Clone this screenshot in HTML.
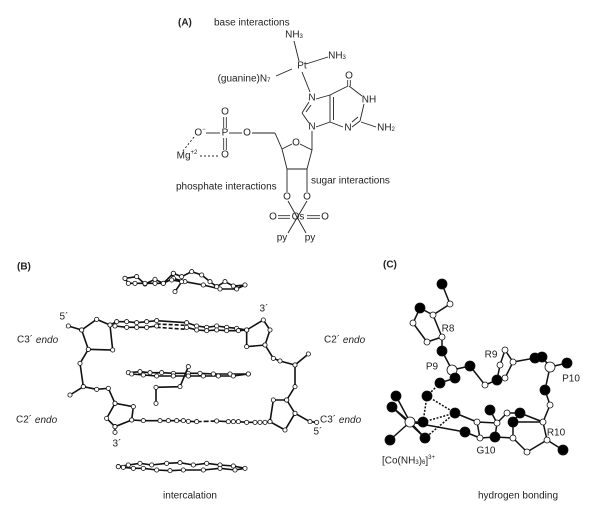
<!DOCTYPE html>
<html><head><meta charset="utf-8"><style>
html,body{margin:0;padding:0;background:#fff;}
svg{display:block;font-family:"Liberation Sans",sans-serif;}
text{font-size:10px;fill:#222;}
</style></head><body>
<svg id="s" width="601" height="513" viewBox="0 0 601 513" xmlns="http://www.w3.org/2000/svg">
<g stroke="#222" stroke-width="0.9" fill="none">
<line x1="294" y1="41" x2="299" y2="61"/>
<line x1="306" y1="64" x2="328" y2="57"/>
<line x1="276" y1="76" x2="292" y2="69"/>
<line x1="302" y1="72" x2="310" y2="92"/>
<line x1="316" y1="99" x2="330" y2="95"/>
<line x1="309" y1="102" x2="302" y2="113"/>
<line x1="311" y1="105" x2="306" y2="112"/>
<line x1="302" y1="113" x2="309" y2="123"/>
<line x1="316" y1="127" x2="330" y2="122"/>
<line x1="330" y1="95" x2="330" y2="122"/>
<line x1="333.5" y1="97" x2="333.5" y2="120"/>
<line x1="330" y1="95" x2="348" y2="86"/>
<line x1="347.7" y1="86" x2="347.7" y2="80" stroke-width="0.8"/><line x1="350.3" y1="86" x2="350.3" y2="80" stroke-width="0.8"/>
<line x1="349" y1="86" x2="362" y2="96"/>
<line x1="364" y1="104" x2="360" y2="121"/>
<line x1="360" y1="121" x2="352" y2="127"/>
<line x1="358" y1="117" x2="352" y2="122"/>
<line x1="343" y1="127" x2="330" y2="122"/>
<line x1="361" y1="122" x2="376" y2="127"/>
<line x1="312" y1="131" x2="312" y2="150"/>
<line x1="312" y1="150" x2="300" y2="144"/>
<line x1="292" y1="144" x2="282" y2="149"/>
<line x1="312" y1="150" x2="307" y2="169"/>
<line x1="307" y1="169" x2="287" y2="169"/>
<line x1="287" y1="169" x2="282" y2="149"/>
<line x1="282" y1="149" x2="275" y2="133"/>
<line x1="275" y1="133" x2="252" y2="133"/>
<line x1="287" y1="169" x2="287" y2="192"/>
<line x1="307" y1="169" x2="307" y2="192"/>
<line x1="229" y1="133" x2="242" y2="133"/>
<line x1="206" y1="133" x2="220" y2="133"/>
<line x1="223.7" y1="117" x2="223.7" y2="128" stroke-width="0.8"/><line x1="226.3" y1="117" x2="226.3" y2="128" stroke-width="0.8"/>
<line x1="223.7" y1="138" x2="223.7" y2="150" stroke-width="0.8"/><line x1="226.3" y1="138" x2="226.3" y2="150" stroke-width="0.8"/>
<line x1="194" y1="137" x2="183" y2="151" stroke-dasharray="2,2"/>
<line x1="200" y1="156" x2="220" y2="156" stroke-dasharray="2,2"/>
<line x1="288" y1="201" x2="306" y2="233"/>
<line x1="307" y1="201" x2="288" y2="233"/>
<line x1="278" y1="215.7" x2="290" y2="215.7" stroke-width="0.8"/><line x1="278" y1="218.3" x2="290" y2="218.3" stroke-width="0.8"/>
<line x1="307" y1="215.7" x2="320" y2="215.7" stroke-width="0.8"/><line x1="307" y1="218.3" x2="320" y2="218.3" stroke-width="0.8"/>
</g>
<g text-anchor="middle" dominant-baseline="central">
<text x="178" y="23" text-anchor="start" font-weight="bold">(A)</text>
<text x="214" y="23" text-anchor="start">base interactions</text>
<text x="294" y="35">NH<tspan font-size="6" dy="2">3</tspan></text>
<text x="337" y="56">NH<tspan font-size="6" dy="2">3</tspan></text>
<text x="302" y="66">Pt</text>
<text x="244" y="79">(guanine)N<tspan font-size="6" dy="2">7</tspan></text>
<text x="312" y="98">N</text>
<text x="312" y="127">N</text>
<text x="348" y="128">N</text>
<text x="349" y="76">O</text>
<text x="369" y="100">NH</text>
<text x="386" y="128">NH<tspan font-size="6" dy="2">2</tspan></text>
<text x="296" y="143">O</text>
<text x="247" y="133">O</text>
<text x="225" y="133">P</text>
<text x="200" y="133">O<tspan font-size="6" dy="-3">−</tspan></text>
<text x="225" y="112">O</text>
<text x="225" y="155">O</text>
<text x="187" y="156">Mg<tspan font-size="6" dy="-3">+2</tspan></text>
<text x="287" y="197">O</text>
<text x="307" y="197">O</text>
<text x="273" y="217">O</text>
<text x="298" y="217">Os</text>
<text x="325" y="217">O</text>
<text x="282" y="238">py</text>
<text x="310" y="238">py</text>
<text x="176" y="187" text-anchor="start">phosphate interactions</text>
<text x="311" y="181" text-anchor="start">sugar interactions</text>
<text x="17" y="267" text-anchor="start" font-weight="bold">(B)</text>
<text x="64" y="317">5´</text>
<text x="264" y="309">3´</text>
<text x="17" y="340" text-anchor="start">C3´ <tspan font-style="italic">endo</tspan></text>
<text x="324" y="340" text-anchor="start">C2´ <tspan font-style="italic">endo</tspan></text>
<text x="16" y="420" text-anchor="start">C2´ <tspan font-style="italic">endo</tspan></text>
<text x="320" y="420" text-anchor="start">C3´ <tspan font-style="italic">endo</tspan></text>
<text x="117" y="444">3´</text>
<text x="318" y="432">5´</text>
<text x="190" y="496">intercalation</text>
<text x="383" y="265" text-anchor="start" font-weight="bold">(C)</text>
<text x="448" y="329">R8</text>
<text x="432" y="367">P9</text>
<text x="491" y="355">R9</text>
<text x="571" y="379">P10</text>
<text x="556" y="433">R10</text>
<text x="486" y="451">G10</text>
<text x="382" y="461" text-anchor="start">[Co(NH<tspan font-size="6" dy="2">3</tspan><tspan dy="-2">)</tspan><tspan font-size="6" dy="2">6</tspan><tspan dy="-2">]</tspan><tspan font-size="6" dy="-3">3+</tspan></text>
<text x="518" y="496">hydrogen bonding</text>
</g>
<g id="gb"></g>
<g id="gc"></g>
</svg>
<script>
var NS="http://www.w3.org/2000/svg";
function el(p,t,a){var e=document.createElementNS(NS,t);for(var k in a)e.setAttribute(k,a[k]);p.appendChild(e);return e;}
var gb=document.getElementById('gb');
function P(a){return a.map(function(q){return [q[0]/3,q[1]/3+250];});}
var bl=el(gb,'g',{stroke:'#111','stroke-width':1.6,fill:'none'});
var at=el(gb,'g',{stroke:'#111','stroke-width':0.8,fill:'#fff'});
function chain(pts,closed,dash){pts=P(pts);var d='M'+pts.map(function(p){return p.join(',');}).join('L')+(closed?'Z':'');el(bl,'path',{d:d,'stroke-dasharray':dash||'none'});pts.forEach(function(p){el(at,'circle',{cx:p[0],cy:p[1],r:2.1});});}
function line(pts){pts=P(pts);el(bl,'path',{d:'M'+pts.map(function(p){return p.join(',');}).join('L')});}
function atoms(pts){P(pts).forEach(function(p){el(at,'circle',{cx:p[0],cy:p[1],r:2.1});});}
chain([[375,85],[410,80],[435,102],[465,88],[490,100],[520,70],[545,80],[575,65],[605,75],[630,95],[650,110],[675,95],[700,108],[735,105],[710,117],[660,117],[610,105],[555,95],[520,85],[490,100],[465,100],[435,100],[405,100],[385,100],[375,85]]);
chain([[520,70],[515,90],[545,95]]);line([[545,95],[525,125]]);atoms([[525,125]]);
chain([[330,225],[350,215],[380,215],[410,218],[440,215],[470,212]]);
chain([[345,228],[380,232],[410,232],[440,232],[470,228]]);
line([[470,212],[560,218]]);
chain([[560,218],[590,228],[620,232],[650,228],[680,232],[710,235],[740,240]],false);
chain([[560,232],[590,240],[620,242],[650,240],[680,242],[715,242],[740,240]]);
el(bl,'path',{d:'M'+(470/3)+','+(222/3+250)+'L'+(560/3)+','+(226/3+250),'stroke-dasharray':'4,2'});
el(bl,'path',{d:'M'+(470/3)+','+(232/3+250)+'L'+(560/3)+','+(238/3+250),'stroke-dasharray':'4,2'});
chain([[245,240],[290,208],[330,225],[338,300],[265,298],[245,240]],true);
chain([[245,240],[205,228]]);
chain([[265,298],[240,340],[250,410],[210,435]]);
chain([[250,410],[290,418],[325,415],[345,460],[400,470],[395,510],[345,530],[320,505],[345,460]]);
chain([[345,530],[345,547]]);
chain([[395,510],[430,512],[480,512],[505,512],[530,512],[550,512],[565,514],[590,515]]);
el(bl,'path',{d:'M'+(590/3)+','+(515/3+250)+'L'+(650/3)+','+(513/3+250),'stroke-dasharray':'5,2'});
chain([[650,513],[685,515],[700,515],[715,515],[740,517],[765,517],[780,517],[795,517],[810,515]]);
chain([[740,240],[790,210],[810,240],[795,285],[740,290],[740,240]],true);
chain([[795,285],[820,325],[840,333],[885,345],[925,312]]);
chain([[885,345],[885,410],[860,450]]);
chain([[860,450],[820,450],[810,515],[855,540],[885,490],[860,450]],true);
chain([[885,490],[930,515],[950,517]]);
chain([[385,368],[420,365],[450,368],[485,368],[520,370],[565,370],[600,370],[640,372],[690,372],[745,372]]);
chain([[395,372],[430,375],[470,378],[520,378],[565,378],[610,378],[655,378],[700,378],[745,372]]);
chain([[565,350],[540,410],[468,412],[468,460]]);
chain([[355,650],[385,645],[420,640],[455,645],[500,640],[540,638],[580,645],[620,640],[660,645],[700,648],[735,655],[705,660],[660,655],[610,660],[550,660],[510,662],[470,660],[430,655],[400,655],[370,652],[355,650]]);

var gc=document.getElementById('gc');
var cb=el(gc,'g',{stroke:'#111','stroke-width':1.5,fill:'none'});
var ca=el(gc,'g',{stroke:'#111','stroke-width':0.8});
function cl(a,b,dash){el(cb,'line',{x1:a[0],y1:a[1],x2:b[0],y2:b[1],'stroke-dasharray':dash||'none'});}
var B=function(x,y){return [x,y,'b'];},W=function(x,y,r){return [x,y,'w',r||3];};
var A={
a1:B(442,284),a2:W(450,304),a3:B(420,308),a4:W(433,315),a5:W(413,323),a6:W(427,342),a7:W(442,337),a8:B(442,351),
p9:W(452,370,5),p9a:B(470,366),p9b:B(455,378),p9c:B(440,383),
h1:B(427,396),co:W(410,422,5),c1:B(392,407),c2:B(390,440),c3:B(423,422),c4:B(425,438),c5:B(396,396),
g1:B(455,413),g2:B(465,432),g3:W(477,422),g4:W(480,438),g5:B(495,437),g6:W(497,423),g7:B(490,410),g8:W(507,413),g9:W(513,438),g10:B(520,413),g11:B(513,422),g12:W(527,452),g13:W(547,440),g14:B(563,450),g15:W(543,422),
u1:W(485,385),u2:B(497,380),r1:W(505,350),r2:W(500,365),r3:W(513,362),r4:W(505,378),
u3:B(535,358),u4:B(542,357),p10:W(550,367,5),u5:B(567,363),u6:B(545,390),u7:W(550,405)
};
var bonds=[['a1','a2'],['a2','a4'],['a3','a4'],['a4','a7'],['a7','a6'],['a6','a5'],['a5','a3'],['a7','a8'],['a8','p9'],['p9','p9a'],['p9','p9b'],['p9b','p9c'],['p9a','u1'],['u1','u2'],['u2','r4'],['r4','r3'],['r3','r1'],['r1','r2'],['r2','u2'],['r3','u3'],['u3','u4'],['u4','p10'],['p10','u5'],['p10','u6'],['u6','u7'],['u7','g15'],['g15','g13'],['g13','g14'],['g13','g12'],['g12','g9'],['g9','g11'],['g11','g15'],['co','c1'],['co','c2'],['co','c3'],['co','c4'],['co','c5'],['c1','c4'],['co','g2'],['g2','g4'],['g4','g5'],['g5','g9'],['g1','g3'],['g3','g6'],['g6','g8'],['g8','g10'],['g10','g11'],['g3','g4'],['g6','g5'],['g7','g6'],['g10','g15']];
bonds.forEach(function(b){cl(A[b[0]],A[b[1]]);});
cl(A.p9c,A.h1,'2,1.5');cl(A.h1,A.g1,'2,1.5');cl(A.c3,A.g1,'2,1.5');cl(A.g1,A.c4,'2,1.5');cl(A.h1,A.c3,'2,1.5');
for(var k in A){var a=A[k];if(a[2]=='b')el(ca,'circle',{cx:a[0],cy:a[1],r:5,fill:'#000'});else el(ca,'circle',{cx:a[0],cy:a[1],r:a[3],fill:'#fff'});}
</script>
</body></html>
